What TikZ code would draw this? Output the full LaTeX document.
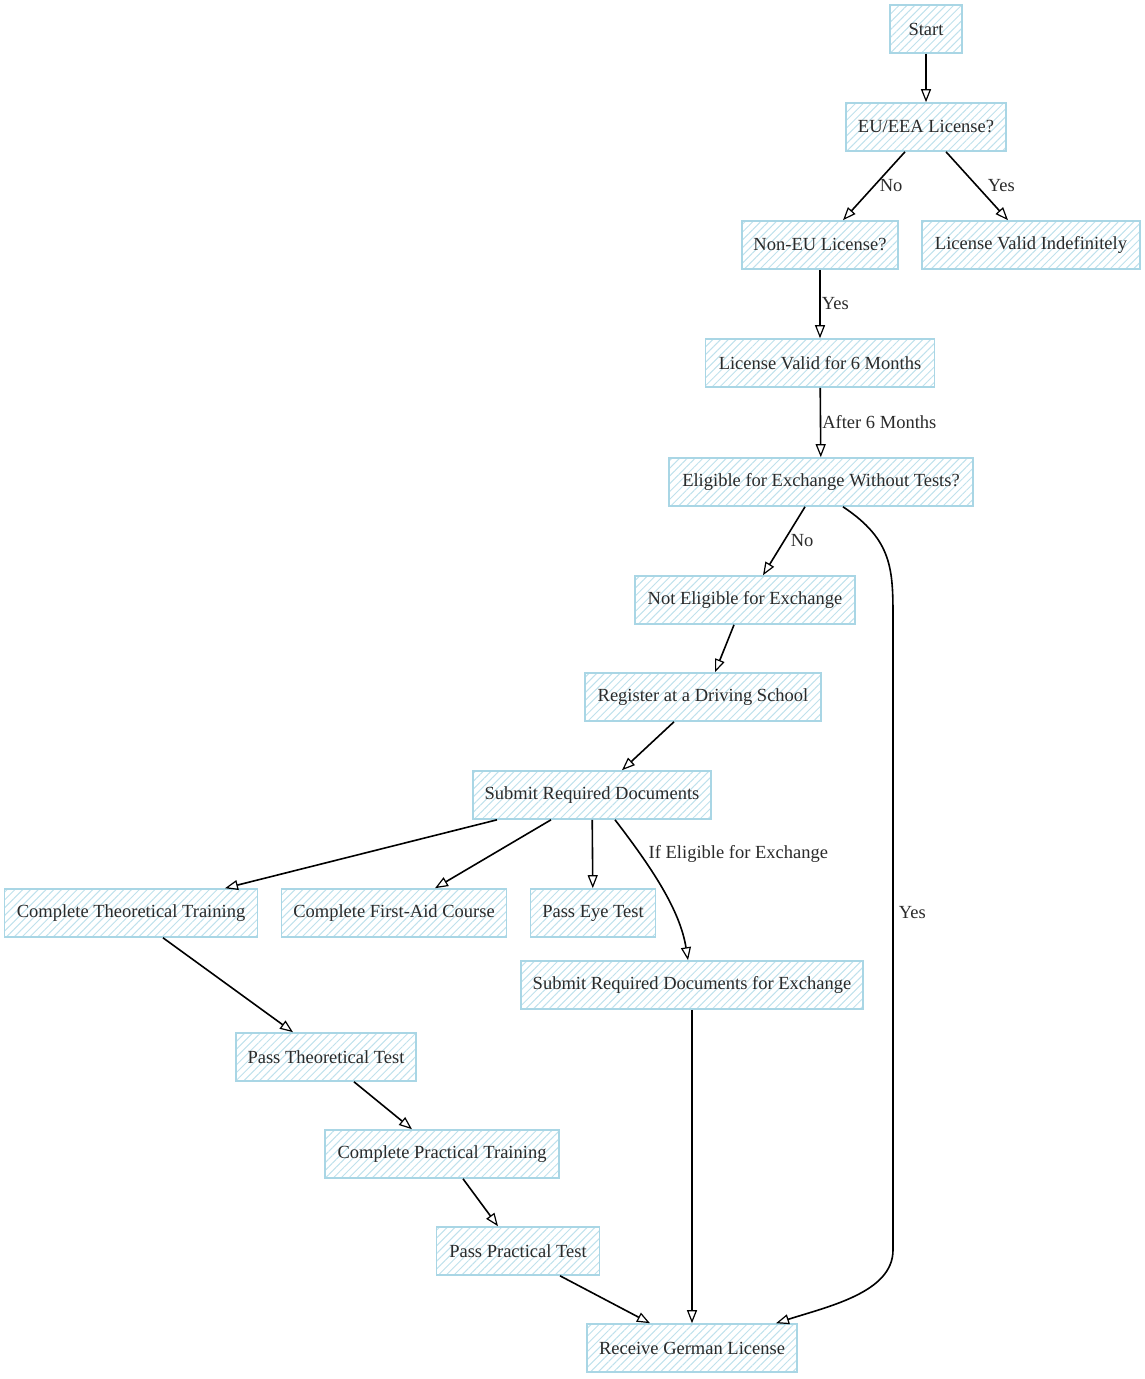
\documentclass[tikz,border=0pt]{standalone}
\usepackage{fontspec}
\setmainfont{Liberation Serif}
\usetikzlibrary{arrows.meta,patterns.meta}
\definecolor{boxline}{HTML}{A9D6E5}
\definecolor{hatch}{HTML}{BFE1EC}
\definecolor{ink}{HTML}{2A2A2A}
\tikzset{%
   stepbox/.style={
      draw=boxline,
      line width=1.6pt,
      pattern={Lines[angle=45,distance=5.5pt,line width=1pt]},
      pattern color=hatch,
      minimum height=48pt,
      inner xsep=10pt,
      text=ink,
      font=\fontsize{18.5}{22}\selectfont
   },
   arr/.style={
      -{Triangle[open,length=13pt,width=10pt,line width=1.2pt]},
      line width=1.6pt
   },
   lbl/.style={
      text=ink,
      inner sep=1pt,
      font=\fontsize{18.5}{22}\selectfont
   }
}

\begin{document}
\begin{tikzpicture}[x=1pt, y=-1pt]
      \useasboundingbox (0,0) rectangle (1145,1379);
      % nodes
      \node[stepbox, minimum width=72pt] (start) at (926,29) {Start};
      \node[stepbox, minimum width=160pt] (eu) at (926,127) {EU/EEA License?};
      \node[stepbox, minimum width=156pt] (noneu) at (820,245) {Non-EU License?};
      \node[stepbox, minimum width=218pt] (indef) at (1031,245) {License Valid Indefinitely};
      \node[stepbox, minimum width=229pt] (six) at (820,363) {License Valid for 6 Months};
      \node[stepbox, minimum width=304pt] (elig) at (821,482) {Eligible for Exchange Without Tests?};
      \node[stepbox, minimum width=220pt] (noteli) at (745,600) {Not Eligible for Exchange};
      \node[stepbox, minimum width=236pt] (reg) at (703,697) {Register at a Driving School};
      \node[stepbox, minimum width=238pt] (submit) at (592,795) {Submit Required Documents};
      \node[stepbox, minimum width=253pt] (ctt) at (131,913) {Complete Theoretical Training};
      \node[stepbox, minimum width=225pt] (fa) at (394,913) {Complete First-Aid Course};
      \node[stepbox, minimum width=125pt] (eye) at (593,913) {Pass Eye Test};
      \node[stepbox, minimum width=342pt] (exch) at (692,985) {Submit Required Documents for Exchange};
      \node[stepbox, minimum width=180pt] (ptt) at (326,1057) {Pass Theoretical Test};
      \node[stepbox, minimum width=234pt] (cpt) at (442,1154) {Complete Practical Training};
      \node[stepbox, minimum width=163pt] (ppt) at (518,1251) {Pass Practical Test};
      \node[stepbox, minimum width=210pt] (recv) at (692,1348) {Receive German License};
      % connectors
      \draw[arr] (start) -- (eu);
      \draw[arr] ([xshift=-21]eu.south) -- node[lbl, right=4pt] (lno1) {No} ([xshift=23]noneu.north);
      \draw[arr] ([xshift=20]eu.south) -- node[lbl, right=9pt] (lyes1) {Yes} ([xshift=-23]indef.north);
      \draw[arr] (noneu) -- node[lbl, right] (lyes2) {Yes} (six);
      \draw[arr] (six) -- node[lbl, right] (lafter) {After 6 Months} (elig);
      \draw[arr] ([xshift=-16]elig.south) -- node[lbl, right=5pt] (lno2) {No} ([xshift=18]noteli.north);
      \draw[arr] ([xshift=22]elig.south) .. controls (893,540) and (893,570) .. (893,620)
         -- node[lbl, right=4pt, pos=0.465] (lyes3) {Yes} (893,1250)
         .. controls (893,1292) and (830,1306) .. ([xshift=84]recv.north);
      \draw[arr] ([xshift=-11]noteli.south) -- ([xshift=12]reg.north);
      \draw[arr] ([xshift=-29]reg.south) -- ([xshift=30]submit.north);
      \draw[arr] ([xshift=-95]submit.south) -- ([xshift=94]ctt.north);
      \draw[arr] ([xshift=-41]submit.south) -- ([xshift=41]fa.north);
      \draw[arr] (submit) -- (eye);
      \draw[arr] ([xshift=23]submit.south) .. controls (652,868) and (680,910)
         .. node[lbl, pos=0.24, right=7pt] (lif) {If Eligible for Exchange} ([xshift=-4]exch.north);
      \draw[arr] ([xshift=32]ctt.south) -- ([xshift=-33]ptt.north);
      \draw[arr] ([xshift=28]ptt.south) -- ([xshift=-30]cpt.north);
      \draw[arr] ([xshift=21]cpt.south) -- ([xshift=-20]ppt.north);
      \draw[arr] ([xshift=42]ppt.south) -- ([xshift=-42]recv.north);
      \draw[arr] (exch) -- (recv);
   \end{tikzpicture}
\end{document}
